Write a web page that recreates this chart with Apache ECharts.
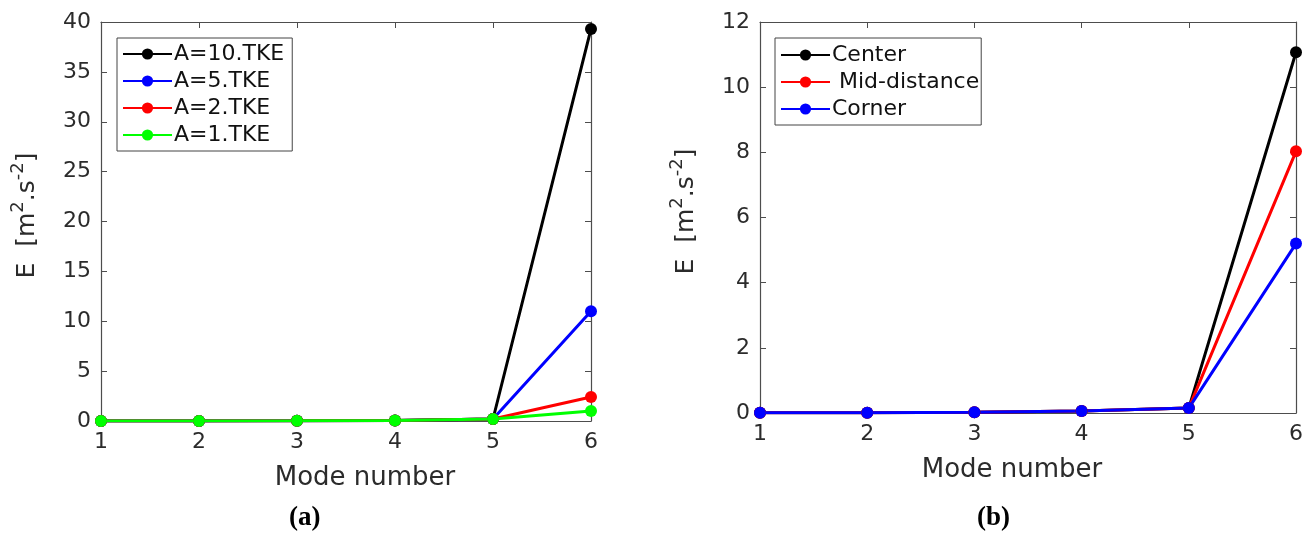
<!DOCTYPE html>
<html><head><meta charset="utf-8">
<script src="https://cdn.jsdelivr.net/npm/echarts@6/dist/echarts.min.js"></script>
<style>html,body{margin:0;padding:0;background:#fff}#c{width:1311px;height:535px}</style>
</head><body><div id="c"></div>
<script>
var modes = [1, 2, 3, 4, 5, 6];
var a10 = [0.01, 0.01, 0.02, 0.05, 0.2, 39.3];
var a5 = [0.01, 0.01, 0.02, 0.05, 0.2, 11.0];
var a2 = [0.01, 0.01, 0.02, 0.05, 0.2, 2.4];
var a1 = [0.01, 0.01, 0.02, 0.05, 0.2, 1.0];
var center = [0.01, 0.01, 0.02, 0.06, 0.15, 11.07];
var mid = [0.01, 0.01, 0.02, 0.06, 0.15, 8.03];
var corner = [0.01, 0.01, 0.02, 0.06, 0.15, 5.2];
var leftNames = ['A=10.TKE', 'A=5.TKE', 'A=2.TKE', 'A=1.TKE'];
var rightNames = ['Center', ' Mid-distance', 'Corner'];

function pairs(v) { return modes.map(function (m, i) { return [m, v[i]]; }); }
var FONT = 'DejaVu Sans';
var axisCol = '#4d4d4d';
var txtCol = '#2b2b2b';
function xAx(g, pos, labels, namePad) {
  return {
    type: 'value', gridIndex: g, position: pos, min: 1, max: 6, interval: 1,
    name: labels ? 'Mode number' : '', nameLocation: 'middle', nameGap: 44,
    nameTextStyle: { fontFamily: FONT, fontSize: 26, color: txtCol, padding: namePad },
    axisLine: { show: true, onZero: false, lineStyle: { color: axisCol, width: 1.2 } },
    axisTick: { show: true, inside: true, length: 6, lineStyle: { color: axisCol } },
    axisLabel: { show: labels, margin: 10, fontFamily: FONT, fontSize: 22, color: txtCol },
    splitLine: { show: false }
  };
}
function yAx(g, pos, labels, max, interval) {
  return {
    type: 'value', gridIndex: g, position: pos, min: 0, max: max, interval: interval,
    name: labels ? 'E  [m{sup|2}.s{sup|-2}]' : '', nameLocation: 'middle', nameGap: 56,
    nameTextStyle: { fontFamily: FONT, fontSize: 25, color: txtCol, padding: [0, 0, 0, 12],
      rich: { sup: { fontFamily: FONT, fontSize: 18, color: txtCol, padding: [0, 0, 18, 0] } } },
    axisLine: { show: true, onZero: false, lineStyle: { color: axisCol, width: 1.2 } },
    axisTick: { show: true, inside: true, length: 6, lineStyle: { color: axisCol } },
    axisLabel: { show: labels, margin: 10, fontFamily: FONT, fontSize: 22, color: txtCol },
    splitLine: { show: false }
  };
}
function ser(name, vals, color, xi, yi) {
  return {
    type: 'line', name: name, data: pairs(vals), xAxisIndex: xi, yAxisIndex: yi,
    symbol: 'circle', symbolSize: 12, color: color,
    lineStyle: { color: color, width: 3 }, itemStyle: { color: color },
    animation: false
  };
}
var lColors = ['#000000', '#0000ff', '#ff0000', '#00ff00'];
var rColors = ['#000000', '#ff0000', '#0000ff'];
var lVals = [a10, a5, a2, a1];
var rVals = [center, mid, corner];
var series = [];
leftNames.forEach(function (n, i) { series.push(ser(n, lVals[i], lColors[i], 0, 0)); });
rightNames.forEach(function (n, i) { series.push(ser(n, rVals[i], rColors[i], 2, 2)); });

var legendBase = {
  orient: 'vertical', backgroundColor: '#fff', borderColor: '#444', borderWidth: 1,
  borderRadius: 0, padding: [5, 8, 5, 5], itemWidth: 49, itemHeight: 14, itemGap: 5,
  textStyle: { fontFamily: FONT, fontSize: 22, lineHeight: 22, color: '#111', padding: [0, 0, 0, -3] }
};
var chart = echarts.init(document.getElementById('c'), null, { renderer: 'canvas' });
chart.setOption({
  animation: false,
  title: [
    { text: '(a)', left: 284, top: 500, textStyle: { fontFamily: 'Liberation Serif', fontWeight: 'bold', fontSize: 27, color: '#000' } },
    { text: '(b)', left: 972, top: 500, textStyle: { fontFamily: 'Liberation Serif', fontWeight: 'bold', fontSize: 27, color: '#000' } }
  ],
  grid: [
    { left: 101, right: 720, top: 22, bottom: 114, show: false },
    { left: 760, right: 15, top: 22, bottom: 122, show: false }
  ],
  xAxis: [xAx(0, 'bottom', true, [0, 0, 0, 38]), xAx(0, 'top', false), xAx(1, 'bottom', true, [0, 32, 0, 0]), xAx(1, 'top', false)],
  yAxis: [yAx(0, 'left', true, 40, 5), yAx(0, 'right', false, 40, 5), yAx(1, 'left', true, 12, 2), yAx(1, 'right', false, 12, 2)],
  legend: [
    Object.assign({}, legendBase, { data: leftNames, left: 117, top: 38 }),
    Object.assign({}, legendBase, { data: rightNames, left: 775, top: 38, padding: [6, 2, 5, 5] })
  ],
  series: series
});
</script></body></html>
